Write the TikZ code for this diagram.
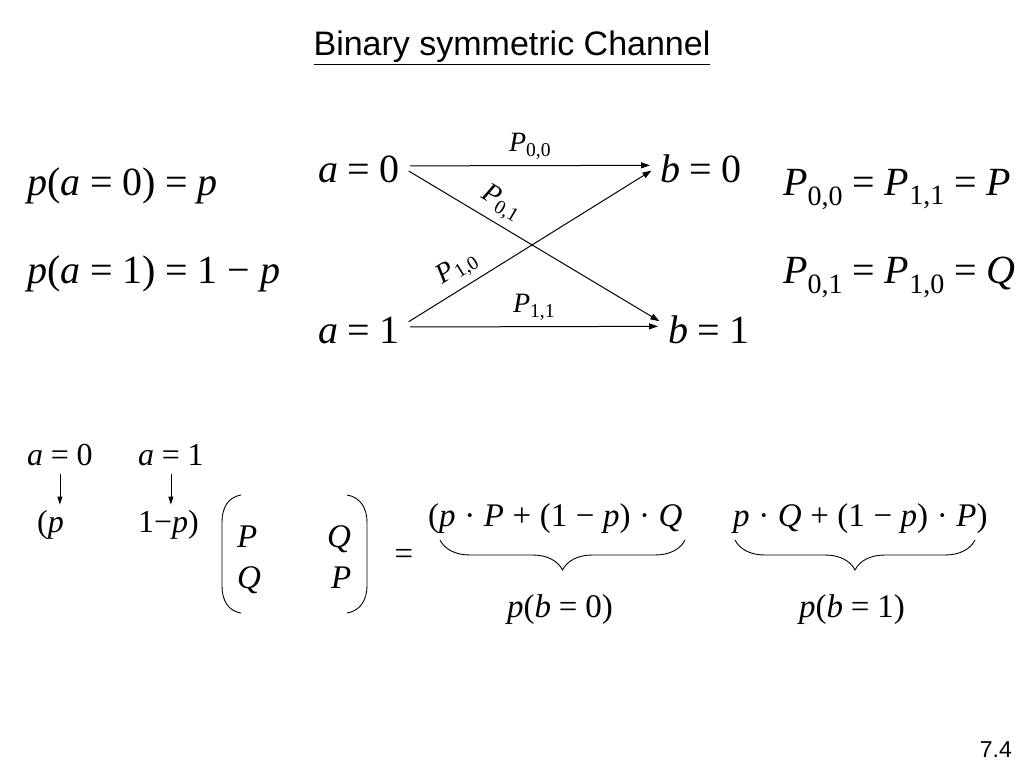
\documentclass[tikz,border=0pt]{standalone}
\usepackage{fontspec}
\setmainfont{Liberation Serif}
\newfontfamily\arialfont{Liberation Sans}
\usetikzlibrary{arrows.meta,decorations.pathreplacing}
\newcommand{\iv}[1]{\textit{#1}}
\newcommand{\eqs}{\hspace{0.24em}=\hspace{0.24em}}
\newcommand{\bop}[1]{\hspace{0.26em}#1\hspace{0.26em}}
\newcommand{\fs}[1]{\fontsize{#1}{#1}\selectfont}
\begin{document}
\begin{tikzpicture}[x=1pt, y=-1pt,
    txt/.style={inner sep=0pt, anchor=base west},
    big/.style={font=\fs{40}},
    mid/.style={font=\fs{33}},
    lab/.style={font=\fs{28}, inner sep=0pt},
    arr/.style={-{Triangle[length=9pt, width=6pt]}, line width=1pt, shorten <=10pt, shorten >=10pt},
    sarr/.style={-{Triangle[length=8pt, width=5pt]}, line width=0.8pt, shorten <=8pt, shorten >=5pt},
    brc/.style={decorate, decoration={brace, mirror, amplitude=30pt}, line width=0.9pt},
    par/.style={line width=0.9pt}]
    \useasboundingbox (0, 0) rectangle (1024, 768);
    \fill [white] (0, 0) rectangle (1024, 768);
    \node [font=\arialfont\fs{34}, inner sep=0pt] (title) at (512, 48) {\underline{Binary symmetric Channel}};
    \node [txt, big] (pa0) at (27, 195) {\iv{p}(\iv{a}\eqs 0)\eqs\iv{p}};
    \node [txt, big] (pa1) at (27, 283) {\iv{p}(\iv{a}\eqs 1)\eqs 1\bop{−}\iv{p}};
    \node [txt, big] (a0) at (318, 182) {\iv{a}\eqs 0};
    \node [txt, big] (b0) at (660, 182) {\iv{b}\eqs 0};
    \node [txt, big] (a1) at (318, 343) {\iv{a}\eqs 1};
    \node [txt, big] (b1) at (668, 343) {\iv{b}\eqs 1};
    \node [txt, big] (pe) at (783, 195) {\iv{P}\textsubscript{0,0}\eqs\iv{P}\textsubscript{1,1}\eqs\iv{P}};
    \node [txt, big] (pq) at (783, 283) {\iv{P}\textsubscript{0,1}\eqs\iv{P}\textsubscript{1,0}\eqs\iv{Q}};
    \draw [arr] ([yshift=3pt]a0.east) -- ([yshift=3pt]b0.west) node [lab, midway, above=6pt] {\iv{P}\textsubscript{0,0}};
    \draw [arr] ([yshift=3pt]a0.east) -- ([yshift=3pt]b1.west) node [lab, pos=0.34, sloped, above=6pt] {\iv{P}\textsubscript{0,1}};
    \draw [arr] ([yshift=3pt]a1.east) -- ([yshift=3pt]b0.west) node [lab, pos=0.26, sloped, above=6pt] {\iv{P}\textsubscript{1,0}};
    \draw [arr] ([yshift=3pt]a1.east) -- ([yshift=3pt]b1.west) node [lab, midway, above=6pt] {\iv{P}\textsubscript{1,1}};
    \node [txt, font=\fs{32}] (va0) at (27, 465) {\iv{a}\eqs 0};
    \node [txt, font=\fs{32}] (va1) at (138, 465) {\iv{a}\eqs 1};
    \node [txt, font=\fs{32}] (pv0) at (37, 532) {(\iv{p}};
    \node [txt, font=\fs{32}] (pv1) at (138, 532) {1−\iv{p})};
    \draw [sarr] (va0.south) -- (va0.south |- pv0.north);
    \draw [sarr] (va1.south) -- (va1.south |- pv1.north);
    \draw [par] (241, 495) .. controls (228, 497) and (222, 508) .. (222, 522) -- (222, 586) .. controls (222, 600) and (228, 611) .. (241, 613);
    \draw [par] (347, 495) .. controls (360, 497) and (367, 508) .. (367, 522) -- (367, 586) .. controls (367, 600) and (360, 611) .. (347, 613);
    \node [txt, mid] (m11) at (237, 547) {\iv{P}};
    \node [txt, mid] (m12) at (327, 547) {\iv{Q}};
    \node [txt, mid] (m21) at (237, 588) {\iv{Q}};
    \node [txt, mid] (m22) at (331, 588) {\iv{P}};
    \node [mid, inner sep=0pt] (eqm) at (404, 557) {=};
    \node [txt, mid] (sb0) at (428, 526) {(\iv{p}\bop{·}\iv{P}\bop{+}(1\bop{−}\iv{p})\bop{·}\iv{Q}};
    \node [txt, mid] (sb1) at (733, 526) {\iv{p}\bop{·}\iv{Q}\bop{+}(1\bop{−}\iv{p})\bop{·}\iv{P})};
    \draw [brc] (440, 540) -- (685, 540);
    \draw [brc] (735, 540) -- (975, 540);
    \node [mid, inner sep=0pt] (pb0) at (560, 610) {\iv{p}(\iv{b}\eqs 0)};
    \node [mid, inner sep=0pt] (pb1) at (852, 610) {\iv{p}(\iv{b}\eqs 1)};
    \node [font=\arialfont\fs{23}, inner sep=0pt, anchor=base east] (pg) at (1012, 757) {7.4};
\end{tikzpicture}
\end{document}
